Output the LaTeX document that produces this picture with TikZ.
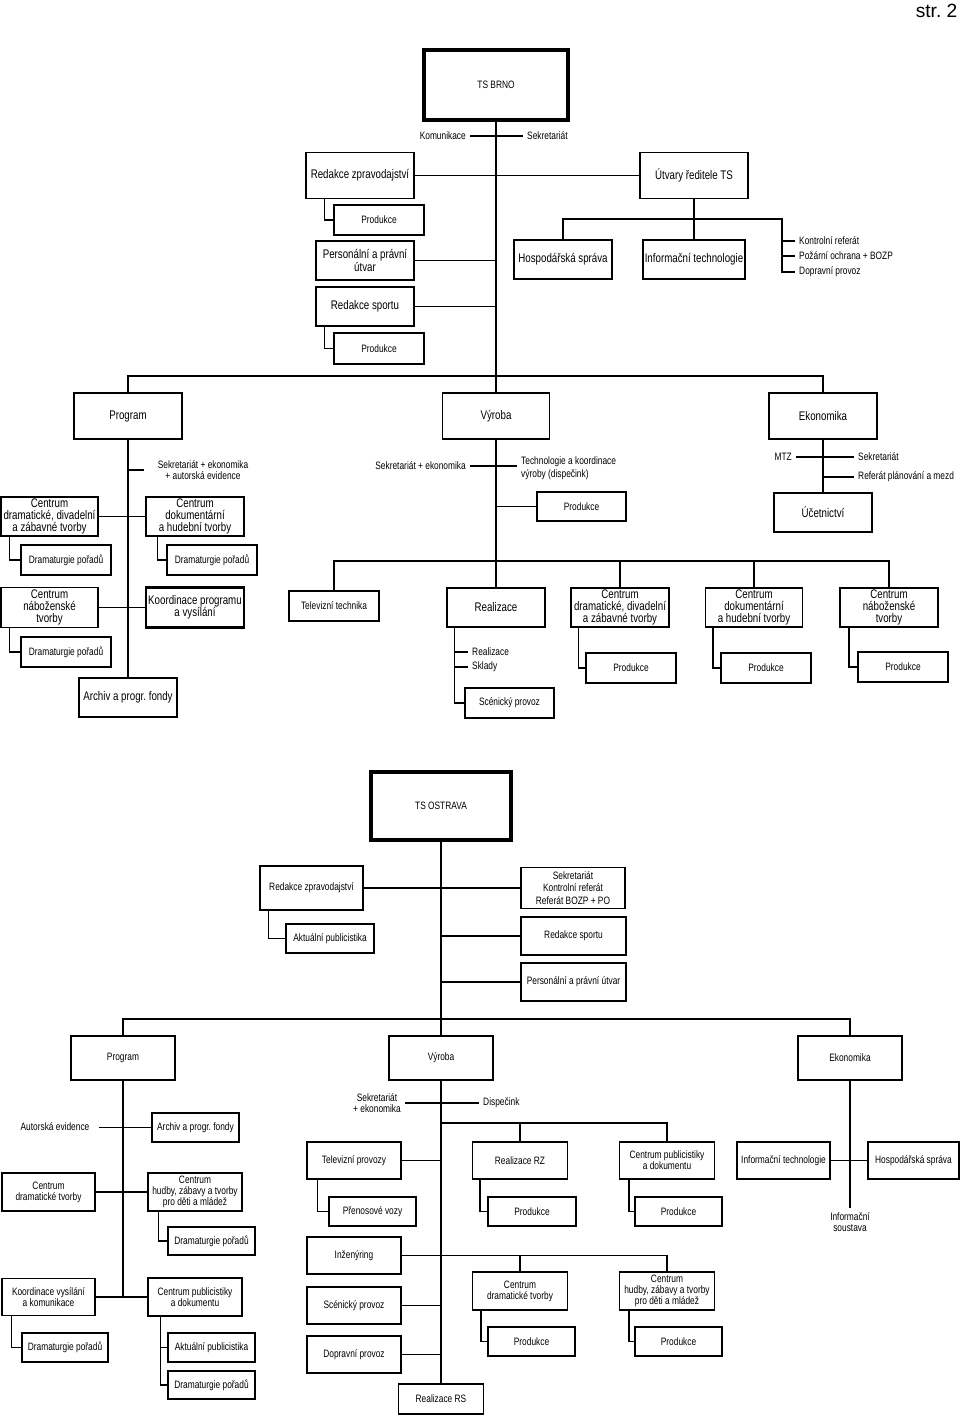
\documentclass[tikz,border=0pt]{standalone}
\usepackage{fontspec}
\setmainfont{Liberation Sans}[FakeStretch=0.78]
\newfontfamily\pagefont{Liberation Sans}
\frenchspacing

\newcommand\bigtxt{\fontsize{7.1}{6.9}\selectfont}
\newcommand\smalltxt{\fontsize{6.1}{6.3}\selectfont}

\tikzset{
  unitbox/.style={draw, line width=.8pt, align=center, inner sep=1pt, font=\bigtxt},
  smallbox/.style={unitbox, font=\smalltxt},
  boldbox/.style={unitbox, line width=1.2pt},
  headbox/.style={draw, line width=1.8pt, font=\smalltxt},
  boxsize/.style 2 args={minimum width=#1*0.02cm, minimum height=#2*0.02cm},
  lbl/.style={inner sep=2pt, font=\smalltxt},
  link/.style={line width=.8pt},
}

\begin{document}
\begin{tikzpicture}[x=0.02cm, y=-0.02cm, link]
  \useasboundingbox (0,0) rectangle (960,1416);
  \node (pg) [anchor=north east, inner sep=0pt, font=\pagefont\fontsize{10.9}{12}\selectfont] at (958,3) {str. 2};

  % TS Brno
  \path (496,85) node (tsb) [headbox, boxsize={144}{70}] {TS BRNO}
    (470,136) node (kom) [lbl, anchor=east] {Komunikace}
    (523,136) node (sek) [lbl, anchor=west] {Sekretariát}
    (360,175.5) node (rzp) [unitbox, boxsize={108}{46}] {Redakce zpravodajství}
    (694,175.5) node (utv) [unitbox, boxsize={108}{46}] {Útvary ředitele TS}
    (379,220) node (pr1) [smallbox, boxsize={90}{30}] {Produkce}
    (365,260.5) node (pers) [unitbox, boxsize={98}{39}] {Personální a právní\\útvar}
    (365,306.5) node (rsp) [unitbox, boxsize={98}{39}] {Redakce sportu}
    (379,348.5) node (pr2) [smallbox, boxsize={90}{31}] {Produkce}
    (563,259.5) node (hos) [unitbox, boxsize={98}{39}] {Hospodářská správa}
    (694,259.5) node (inf) [unitbox, boxsize={98}{39}] {Informační technologie}
    (795,241) node (lkr) [lbl, anchor=west] {Kontrolní referát}
    (795,256) node (lpo) [lbl, anchor=west] {Požární ochrana + BOZP}
    (795,272) node (ldp) [lbl, anchor=west] {Dopravní provoz}
    ;
  \path (128,416) node (prg) [unitbox, boxsize={108}{46}] {Program}
    (496,416) node (vyr) [unitbox, boxsize={107}{46}] {Výroba}
    (823,416) node (eko) [unitbox, boxsize={108}{46}] {Ekonomika}
    ;
  % Program
  \path (203,470) node (psk) [lbl, align=center] {Sekretariát + ekonomika\\+ autorská evidence}
    (49.5,516.5) node (cdd) [unitbox, boxsize={97}{39}] {Centrum\\dramatické, divadelní\\a zábavné tvorby}
    (195,516.5) node (cdh) [unitbox, boxsize={98}{39}] {Centrum\\dokumentární\\a hudební tvorby}
    (66,560) node (dp1) [smallbox, boxsize={90}{30}] {Dramaturgie pořadů}
    (212,560) node (dp2) [smallbox, boxsize={90}{30}] {Dramaturgie pořadů}
    (49.5,607.5) node (cnt) [unitbox, boxsize={97}{40}] {Centrum\\náboženské\\tvorby}
    (195,607.5) node (kpv) [boldbox, boxsize={98}{40}] {Koordinace programu\\a vysílání}
    (66,652) node (dp3) [smallbox, boxsize={90}{30}] {Dramaturgie pořadů}
    (128,697.5) node (arc) [unitbox, boxsize={98}{39}] {Archiv a progr. fondy}
    ;
  % Vyroba
  \path (470,466) node (vsk) [lbl, anchor=east] {Sekretariát + ekonomika}
    (517,468) node (vtk) [lbl, anchor=west, align=left, font=\fontsize{6.1}{7.4}\selectfont] {Technologie a koordinace\\výroby (dispečink)}
    (581.5,506.5) node (prv) [smallbox, boxsize={89}{29}] {Produkce}
    (334,606) node (tvt) [smallbox, boxsize={90}{30}] {Televizní technika}
    (496,607.5) node (rea) [unitbox, boxsize={98}{39}] {Realizace}
    (620,607.5) node (cdr) [unitbox, boxsize={98}{39}] {Centrum\\dramatické, divadelní\\a zábavné tvorby}
    (754,607.5) node (cdk) [unitbox, boxsize={97}{39}] {Centrum\\dokumentární\\a hudební tvorby}
    (889,607.5) node (cnr) [boldbox, boxsize={98}{39}] {Centrum\\náboženské\\tvorby}
    (468,652) node (lre) [lbl, anchor=west] {Realizace}
    (468,667) node (lsk) [lbl, anchor=west] {Sklady}
    (509.5,703) node (scp) [smallbox, boxsize={89}{30}] {Scénický provoz}
    (631,668) node (pr3) [smallbox, boxsize={90}{30}] {Produkce}
    (766,668) node (pr4) [smallbox, boxsize={90}{30}] {Produkce}
    (903,667) node (pr5) [smallbox, boxsize={90}{30}] {Produkce}
    ;
  % Ekonomika
  \path (796,457) node (mtz) [lbl, anchor=east] {MTZ}
    (854,457) node (esk) [lbl, anchor=west] {Sekretariát}
    (854,477) node (erp) [lbl, anchor=west] {Referát plánování a mezd}
    (823,512.5) node (uce) [unitbox, boxsize={98}{39}] {Účetnictví}
    ;

  \draw (tsb.south) -- (vyr.north);
  \draw (kom.east) -- (sek.west);
  \draw (rzp.east) -- (utv.west);
  \draw (rzp.south west) ++(19,0) |- (pr1.west);
  \draw (pers.east) -- (pers.east -| tsb.south);
  \draw (rsp.east) -- (rsp.east -| tsb.south);
  \draw (rsp.south west) ++(9,0) |- (pr2.west);
  \draw (utv.south) -- (inf.north);
  \coordinate (ub) at (782,219);
  \draw (hos.north) |- (ub) |- (ldp.west);
  \draw (lkr.west) -- (lkr.west -| ub);
  \draw (lpo.west) -- (lpo.west -| ub);
  \coordinate (bb) at (496,376);
  \draw (prg.north) |- (bb) -| (eko.north);

  \draw (prg.south) -- (arc.north);
  \draw (prg.south |- psk.west) -- ++(16,0);
  \draw (cdd.east) -- (cdh.west);
  \draw (cdd.south west) ++(9,0) |- (dp1.west);
  \draw (cdh.south west) ++(12,0) |- (dp2.west);
  \draw (cnt.east) -- (kpv.west);
  \draw (cnt.south west) ++(9,0) |- (dp3.west);

  \draw (vyr.south) -- (rea.north);
  \draw (vsk.east) -- (vsk.east -| vtk.west);
  \draw (prv.west) -- (prv.west -| vyr.south);
  \coordinate (vb) at (496,561);
  \draw (tvt.north) |- (cnr.north |- vb) -- (cnr.north);
  \draw (cdr.north) -- (cdr.north |- vb);
  \draw (cdk.north) -- (cdk.north |- vb);
  \path (rea.south west) ++(8,0) coordinate (rv);
  \draw (rv) |- (scp.west);
  \draw (rv |- lre.west) -- (lre.west);
  \draw (rv |- lsk.west) -- (lsk.west);
  \draw (cdr.south west) ++(8,0) |- (pr3.west);
  \draw (cdk.south west) ++(8,0) |- (pr4.west);
  \draw (cnr.south west) ++(10,0) |- (pr5.west);

  \draw (eko.south) -- (uce.north);
  \draw (mtz.east) -- (mtz.east -| esk.west);
  \draw (eko.south |- erp.west) -- (erp.west);

  % TS Ostrava
  \path (441,806) node (tso) [headbox, boxsize={140}{68}] {TS OSTRAVA}
    (311.5,888) node (orz) [smallbox, boxsize={103}{44}] {Redakce zpravodajství}
    (573,888) node (osk) [smallbox, boxsize={104}{41}, font=\fontsize{6.1}{7}\selectfont] {Sekretariát\\Kontrolní referát\\Referát BOZP + PO}
    (330,938.5) node (oap) [smallbox, boxsize={88}{29}] {Aktuální publicistika}
    (573.5,936) node (ors) [smallbox, boxsize={105}{38}] {Redakce sportu}
    (573.5,982) node (opp) [smallbox, boxsize={105}{38}] {Personální a právní útvar}
    (123,1058) node (oprg) [smallbox, boxsize={104}{44}] {Program}
    (441,1058) node (ovyr) [smallbox, boxsize={104}{44}] {Výroba}
    (850,1058) node (oeko) [smallbox, boxsize={104}{44}] {Ekonomika}
    ;
  % Program
  \path (55,1127) node (oae) [lbl] {Autorská evidence}
    (195.5,1127.5) node (oarc) [smallbox, boxsize={87}{29}] {Archiv a progr. fondy}
    (48.5,1192) node (ocdt) [smallbox, boxsize={93}{38}] {Centrum\\dramatické tvorby}
    (195,1192) node (ochm) [smallbox, boxsize={94}{38}] {Centrum\\hudby, zábavy a tvorby\\pro děti a mládež}
    (211.5,1241) node (odp1) [smallbox, boxsize={87}{28}] {Dramaturgie pořadů}
    (48.5,1297) node (okvk) [smallbox, boxsize={93}{37}] {Koordinace vysílání\\a komunikace}
    (195,1297) node (ocpd) [smallbox, boxsize={94}{38}] {Centrum publicistiky\\a dokumentu}
    (65,1347.5) node (odp2) [smallbox, boxsize={86}{29}] {Dramaturgie pořadů}
    (211.5,1347.5) node (oakt) [smallbox, boxsize={87}{29}] {Aktuální publicistika}
    (211.5,1385) node (odp3) [smallbox, boxsize={87}{28}] {Dramaturgie pořadů}
    ;
  % Vyroba
  \path (377,1103) node (osk2) [lbl, align=center] {Sekretariát\\+ ekonomika}
    (479,1103) node (odi) [lbl, anchor=west] {Dispečink}
    (354,1160.5) node (otp) [smallbox, boxsize={94}{37}] {Televizní provozy}
    (520,1160.5) node (orz2) [smallbox, boxsize={95}{37}] {Realizace RZ}
    (667,1160.5) node (ocp2) [smallbox, boxsize={95}{37}] {Centrum publicistiky\\a dokumentu}
    (372.5,1211.5) node (opv) [smallbox, boxsize={87}{29}] {Přenosové vozy}
    (532,1211.5) node (opr1) [smallbox, boxsize={88}{29}] {Produkce}
    (678.5,1211.5) node (opr2) [smallbox, boxsize={87}{29}] {Produkce}
    (354,1255.5) node (oinz) [smallbox, boxsize={94}{37}] {Inženýring}
    (520,1291) node (ocd2) [smallbox, boxsize={95}{38}] {Centrum\\dramatické tvorby}
    (667,1291) node (och2) [smallbox, boxsize={95}{38}] {Centrum\\hudby, zábavy a tvorby\\pro děti a mládež}
    (531.5,1341.5) node (opr3) [smallbox, boxsize={87}{29}] {Produkce}
    (678.5,1341.5) node (opr4) [smallbox, boxsize={87}{29}] {Produkce}
    (354,1305.5) node (osc) [smallbox, boxsize={94}{37}] {Scénický provoz}
    (354,1354.5) node (odv) [smallbox, boxsize={94}{37}] {Dopravní provoz}
    (441,1399) node (ors2) [smallbox, boxsize={85}{30}] {Realizace RS}
    ;
  % Ekonomika
  \path (783.5,1160.5) node (oit) [smallbox, boxsize={93}{37}] {Informační technologie}
    (913.5,1160.5) node (ohs) [smallbox, boxsize={91}{37}] {Hospodářská správa}
    (850,1222) node (ois) [lbl, align=center] {Informační\\soustava}
    ;

  \draw (tso.south) -- (ovyr.north);
  \draw (orz.east) -- (osk.west);
  \draw (orz.south west) ++(9,0) |- (oap.west);
  \draw (ors.west) -- (ors.west -| tso.south);
  \draw (opp.west) -- (opp.west -| tso.south);
  \coordinate (ob) at (441,1019);
  \draw (oprg.north) |- (ob) -| (oeko.north);

  \draw (oprg.south) -- (oprg.south |- okvk.east);
  \draw (oarc.west) -- ++(-52,0);
  \draw (ocdt.east) -- (ochm.west);
  \draw (ochm.south west) ++(11,0) |- (odp1.west);
  \draw (okvk.east) -- (ocpd.west);
  \draw (okvk.south west) ++(10,0) |- (odp2.west);
  \draw (ocpd.south west) ++(13,0) |- (oakt.west);
  \draw (ocpd.south west) ++(13,0) |- (odp3.west);

  \draw (ovyr.south) -- (ors2.north);
  \draw (osk2.east) -- (odi.west);
  \coordinate (ovb) at (441,1123);
  \draw (ovb) -| (ocp2.north);
  \draw (orz2.north) -- (orz2.north |- ovb);
  \draw (otp.east) -- (otp.east -| ovb);
  \draw (otp.south west) ++(11,0) |- (opv.west);
  \draw (orz2.south west) ++(8,0) |- (opr1.west);
  \draw (ocp2.south west) ++(10,0) |- (opr2.west);
  \draw (oinz.east) -| (och2.north);
  \draw (ocd2.north) -- (ocd2.north |- oinz.east);
  \draw (ocd2.south west) ++(9,0) |- (opr3.west);
  \draw (och2.south west) ++(10,0) |- (opr4.west);
  \draw (osc.east) -- (osc.east -| ovb);
  \draw (odv.east) -- (odv.east -| ovb);

  \draw (oeko.south) -- (ois.north);
  \draw (oit.east) -- (ohs.west);
\end{tikzpicture}
\end{document}
